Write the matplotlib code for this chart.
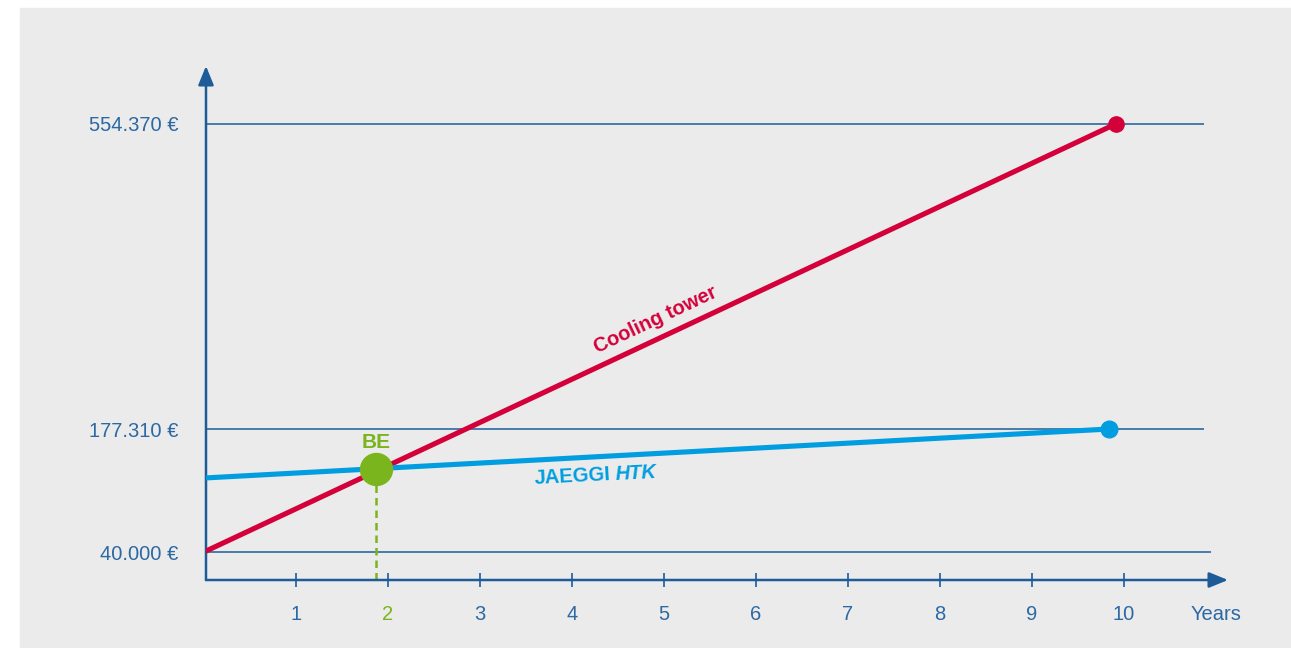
import numpy as np
import matplotlib
matplotlib.use("Agg")
import matplotlib.pyplot as plt
from matplotlib.patches import Rectangle

plt.rcParams['font.family'] = ['Liberation Sans', 'DejaVu Sans']

# data
years = [1, 2, 3, 4, 5, 6, 7, 8, 9, 10]
cost_levels = [40000, 177310, 554370]

tower_x = [0, 9.91]
tower_y = [40000, 554370]
htk_x = [0, 9.84]
htk_y = [122600, 177310]
be_x = 1.87
be_y = 132660

# colours
bg = '#ebebeb'
axis_blue = '#1d5c98'
grid_blue = '#3b73a7'
text_blue = '#2c68a3'
red = '#d4003a'
light_blue = '#009ee0'
green = '#7ab51d'


# the y axis of the original is not linear: two gaps with their own scale
def fwd(v):
    v = np.asarray(v, dtype=float)
    return np.where(v < 177310, (v - 40000) / 137310,
                    1 + (v - 177310) * 2.48 / 377060)


def inv(p):
    p = np.asarray(p, dtype=float)
    return np.where(p < 1, 40000 + p * 137310,
                    177310 + (p - 1) * 377060 / 2.48)


fig = plt.figure(figsize=(12.91, 6.48), dpi=100, facecolor='white')
fig.patches.append(Rectangle((20 / 1291, 0), 1 - 20 / 1291, 640 / 648,
                             transform=fig.transFigure, color=bg, zorder=-10))

ax = fig.add_axes([206 / 1291, 68 / 648, 1022 / 1291, 514 / 648])
ax.set_facecolor('none')
ax.set_yscale('function', functions=(fwd, inv))
ax.set_xlim(0.022, 11.13)
ax.set_ylim(8750, 626000)
for s in ax.spines.values():
    s.set_visible(False)

# gridlines
ax.hlines(cost_levels[1:], 0, 10.87, color=grid_blue, lw=1.3, zorder=1)
ax.hlines(cost_levels[0], 0, 10.94, color=grid_blue, lw=1.3, zorder=1)

# axes with arrows
arrow = dict(arrowstyle='-|>,head_length=1.15,head_width=0.47', mutation_scale=10,
             color=axis_blue, lw=1.8, shrinkA=0, shrinkB=0)
ax.annotate('', xy=(0, 1), xytext=(0, 0), xycoords='axes fraction',
            arrowprops=arrow, annotation_clip=False)
ax.annotate('', xy=(1, 0), xytext=(0, 0), xycoords='axes fraction',
            arrowprops=arrow, annotation_clip=False)

# lines
ax.plot(tower_x, tower_y, color=red, lw=3.7, solid_capstyle='butt', zorder=3)
ax.plot(tower_x[-1], tower_y[-1], 'o', color=red, ms=11, zorder=4)
ax.plot(htk_x, htk_y, color=light_blue, lw=3.7, solid_capstyle='butt', zorder=3)
ax.plot(htk_x[-1], htk_y[-1], 'o', color=light_blue, ms=12, zorder=4)

# break-even
ax.vlines(be_x, ax.get_ylim()[0], be_y, color=green, lw=1.8,
          linestyles=(0, (3, 2)), zorder=2)
ax.plot(be_x, be_y, 'o', color=green, ms=23, zorder=5)
ax.annotate('BE', xy=(be_x, be_y), xytext=(0, 19), textcoords='offset points',
            ha='center', va='center', color=green, fontsize=15, fontweight='bold')

# line labels
ax.text(4.91, 312000, 'Cooling tower', color=red, fontsize=14.5, fontweight='bold',
        rotation=25.2, rotation_mode='anchor', ha='center', va='center')
ax.text(3.59, 122600, 'JAEGGI', color=light_blue, fontsize=14.5, fontweight='bold',
        rotation=3, rotation_mode='anchor', ha='left', va='center')
ax.text(4.47, 125960, 'HTK', color=light_blue, fontsize=14.5, fontweight='bold',
        fontstyle='italic', rotation=3, rotation_mode='anchor', ha='left', va='center')

# ticks
ax.set_xticks(years + [11], [str(y) for y in years] + ['Years'])
ax.tick_params(axis='x', direction='inout', length=10, width=1.2, color=axis_blue,
               labelcolor=text_blue, labelsize=14.5, pad=13)
ax.xaxis.get_major_ticks()[-1].tick1line.set_visible(False)
ax.get_xticklabels()[1].set_color(green)

ax.set_yticks(cost_levels, [f"{v:,}".replace(",", ".") + " €" for v in cost_levels])
ax.yaxis.set_minor_locator(matplotlib.ticker.NullLocator())
ax.tick_params(axis='y', length=0, labelcolor=text_blue, labelsize=14.5, pad=20)

fig.savefig('out.png', dpi=100, facecolor='white')
